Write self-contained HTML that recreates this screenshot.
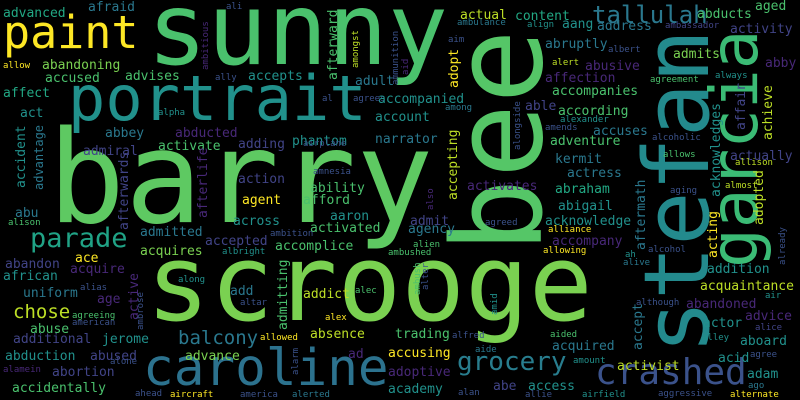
<!DOCTYPE html>
<html><head><meta charset="utf-8">
<style>
html,body{margin:0;padding:0;background:#000;}
svg{display:block;}
text{font-family:"DejaVu Sans Mono","Liberation Mono",monospace;}
</style></head>
<body>
<svg id="cloud" width="800" height="400" viewBox="0 0 800 400" xmlns="http://www.w3.org/2000/svg">
<rect x="0" y="0" width="800" height="400" fill="#000"/>
</svg>
<script>
var Y="#fde725",YG="#bddf26",LG="#7ad151",G="#4ac16d",G2="#22a884",T="#21918c",TB="#2a788e",B="#3b528b",B2="#414487",P="#482878";
// [text, x, baseline y, size, color, vertical]
var words=[
["sunny",147,64,100,G,0],["barry",48,222,128,"#5ec962",0],["scrooge",146,320,106,LG,0],
["portrait",68,120,62,T,0],["paint",3,48,45,Y,0],["caroline",143,385,51,"#2c728e",0],
["parade",30,247,27,"#20a386",0],["chose",13,318,19,YG,0],["balcony",178,344,19,TB,0],
["tallulah",592,23,24,TB,0],["crashed",595,384,36,B,0],["grocery",457,370,26,"#287d8e",0],
["bee",541,253,124,"#55c667",1],["stefan",708,354,90,"#238a8d",1],["garcia",757,268,66,"#3bbb75",1],
["advanced",3,17,13,G2,0],["afraid",88,11,13,TB,0],["ali",226,9,9,B,0],["allow",3,68,9,Y,0],
["abandoning",42,69,13,LG,0],["accused",45,82,13,G,0],["advises",125,80,13,G,0],["affect",3,97,13,G2,0],
["act",20,117,13,T,0],["abbey",105,137,13,TB,0],["abducted",175,137,13,P,0],["adding",238,148,13,B2,0],
["phantom",292,145,13,T,0],["admiral",83,155,13,B2,0],["activate",158,150,13,G,0],["accepts",248,80,13,T,0],
["adult",355,85,13,TB,0],["ally",215,80,9,B,0],["al",322,101,9,B,0],["agrees",353,101,9,B,0],["alpha",158,115,9,T,0],
["airplane",303,146,9,B,0],["amnesia",313,174,9,B,0],["action",238,183,13,B2,0],["ability",310,192,13,G,0],
["agent",242,204,13,Y,0],["afford",303,204,13,G,0],["across",233,225,13,T,0],["aaron",330,220,13,T,0],
["abu",15,217,13,TB,0],["alison",8,225,9,G,0],["admitted",140,236,13,TB,0],["activated",310,232,13,G,0],
["ambition",270,236,9,B,0],["accepted",205,245,13,B2,0],["accomplice",275,250,13,G,0],["acquires",140,255,13,LG,0],
["albright",222,254,9,T,0],["ace",75,262,13,Y,0],["abandon",5,268,13,B2,0],["acquire",70,273,13,P,0],
["african",3,280,13,T,0],["along",178,282,9,T,0],["uniform",23,297,13,TB,0],["alias",80,290,9,B,0],
["add",230,295,13,TB,0],["addict",303,298,13,YG,0],["alec",355,293,9,G,0],["age",97,303,13,P,0],
["altar",240,305,9,B,0],["agreeing",72,318,9,G,0],["alex",325,320,9,Y,0],["abuse",30,333,13,G,0],
["american",72,325,9,B,0],["absence",310,338,13,YG,0],["allowed",260,340,9,Y,0],["additional",13,343,13,B2,0],
["jerome",102,343,13,T,0],["abduction",5,360,13,T,0],["abused",90,360,13,B2,0],["advance",185,360,13,LG,0],
["ad",348,358,13,P,0],["alone",110,364,9,B,0],["alamein",3,372,9,P,0],["abortion",52,376,13,B2,0],
["accidentally",12,392,13,G,0],["ahead",135,396,9,B,0],["aircraft",170,397,9,Y,0],["america",240,397,9,B,0],
["alerted",292,397,9,TB,0],
["accident",25,188,13,T,1],["advantage",43,190,12,TB,1],["afterwards",128,230,13,B2,1],["afterlife",207,218,13,P,1],
["afterward",337,80,13,G,1],["ambitious",208,70,9,P,1],["amongst",358,68,9,YG,1],["ammunition",398,85,9,B,1],
["active",138,320,13,P,1],["ambrose",143,330,9,B,1],["admitting",287,330,13,G,1],["alarm",298,375,9,B,1],
["actual",460,19,13,YG,0],["content",515,20,13,G2,0],["aged",755,10,13,G,0],["abducts",697,18,13,G,0],
["ambulance",457,25,9,TB,0],["align",527,27,9,T,0],["aang",562,28,13,T,0],["address",597,30,13,TB,0],
["ambassador",665,28,9,B2,0],["activity",730,33,13,B2,0],["aim",448,42,9,B,0],["abruptly",545,48,13,TB,0],
["albert",608,52,9,B,0],["admits",673,58,13,LG,0],["abby",765,67,13,P,0],["alert",552,65,9,YG,0],
["abusive",585,70,13,P,0],["affection",545,82,13,P,0],["agreement",650,82,9,G,0],["always",715,78,9,T,0],
["accompanies",552,95,13,G,0],["accompanied",378,103,13,T,0],["among",445,110,9,TB,0],["able",525,110,13,B2,0],
["according",558,115,13,G,0],["account",375,121,13,T,0],["alexander",560,122,9,T,0],["amends",545,130,9,B,0],
["narrator",375,143,13,TB,0],["accuses",593,135,13,TB,0],["adventure",550,145,13,G,0],["alcoholic",652,140,9,B,0],
["actually",730,160,13,B2,0],["kermit",555,163,13,TB,0],["allows",663,157,9,G,0],["allison",735,165,9,YG,0],
["actress",567,177,13,TB,0],["activates",467,190,13,P,0],["abraham",555,193,13,G2,0],["almost",725,188,9,YG,0],
["aging",670,193,9,B,0],["abigail",558,210,13,T,0],["admit",410,225,13,B2,0],["agreed",485,225,9,B,0],
["acknowledge",545,225,13,T,0],["agency",408,233,13,TB,0],["alliance",548,232,9,Y,0],["accompany",552,245,13,P,0],
["alien",413,247,9,G,0],["ambushed",388,255,9,G,0],["allowing",543,253,9,Y,0],["alcohol",648,252,9,B,0],
["ah",625,257,9,T,0],["alive",623,265,9,TB,0],["addition",707,273,13,T,0],["acquaintance",700,290,13,YG,0],
["air",765,298,9,T,0],["although",636,305,9,B,0],["abandoned",686,308,13,P,0],["advice",745,320,13,P,0],
["actor",703,327,13,T,0],["alice",755,330,9,B2,0],["trading",395,338,13,G,0],["alfred",452,338,9,B,0],
["aided",550,337,9,G,0],["alley",702,340,9,T,0],["aboard",740,345,13,T,0],["aide",475,352,9,TB,0],
["acquired",552,350,13,TB,0],["accusing",388,357,13,Y,0],["acid",718,362,13,T,0],["agree",750,357,9,B,0],
["activist",617,370,13,YG,0],["amount",573,363,9,T,0],["adoptive",388,376,13,P,0],["adam",747,378,13,T,0],
["abe",493,390,13,B2,0],["access",528,390,13,T,0],["academy",388,393,13,T,0],["ago",748,388,9,TB,0],
["alan",458,395,9,B,0],["allie",525,397,9,B,0],["airfield",582,397,9,T,0],["aggressive",658,396,9,B,0],
["alternate",730,397,9,Y,0],
["aid",408,75,9,P,1],["adopt",458,88,13,Y,1],["alongside",520,150,9,B,1],["acknowledges",720,197,13,T,1],
["affair",745,130,13,B2,1],["achieve",772,140,13,YG,1],["accepting",457,200,13,YG,1],["adopted",763,225,13,YG,1],
["aftermath",645,250,13,TB,1],["also",433,210,9,P,1],["already",785,265,9,B,1],["acting",717,258,13,Y,1],
["alter",428,290,9,B,1],["ambush",420,295,9,G,1],["amid",497,315,9,T,1],["accept",642,350,13,TB,1]
];
var svg=document.getElementById('cloud');
for(var i=0;i<words.length;i++){
  var w=words[i];
  var el=document.createElementNS('http://www.w3.org/2000/svg','text');
  el.textContent=w[0];
  el.setAttribute('font-size',w[3]);
  el.setAttribute('fill',w[4]);
  if(w[5]){
    el.setAttribute('x',0);el.setAttribute('y',0);
    el.setAttribute('transform','translate('+w[1]+','+w[2]+') rotate(-90)');
  }else{
    el.setAttribute('x',w[1]);el.setAttribute('y',w[2]);
  }
  
  
  svg.appendChild(el);
}
</script>
</body></html>
